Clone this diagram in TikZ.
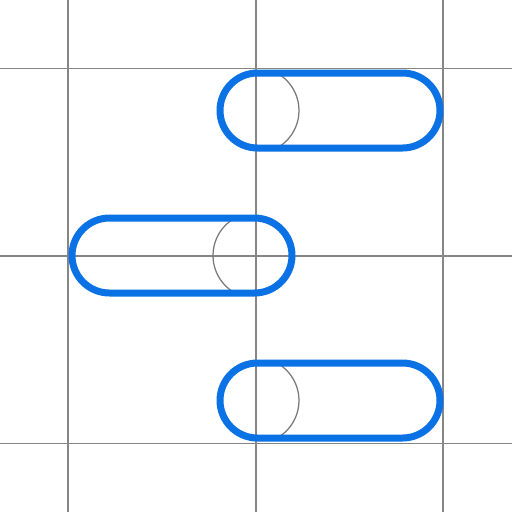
\documentclass[tikz,border=0pt]{standalone}
\begin{document}
\begin{tikzpicture}[x=0.02cm,y=-0.02cm,
  gridline/.style={draw=gray!95, line width=0.032cm},
  pill/.style={draw=pillblue, line width=0.14cm},
  knob/.style={draw=gray!95!black, line width=0.025cm}]
\definecolor{pillblue}{HTML}{0A72E4}
\useasboundingbox (0,0) rectangle (512,512);
\fill[white] (0,0) rectangle (512,512);
% grid
\foreach \g in {68.3,255.8,443.3}{
  \draw[gridline] (\g,0) -- (\g,512);
  \draw[gridline] (0,\g) -- (512,\g);
}
% pills: left x, right x, center y, knob centre x
\foreach \l/\r/\c/\k in {220/440/110.5/256, 72/292/255.5/256, 220/440/400.5/256}{
  \begin{scope}
    \clip[rounded corners=37.5*0.02cm] (\l,\c-37.5) rectangle (\r,\c+37.5);
    \draw[knob] (\k,\c) circle (43*0.02cm);
  \end{scope}
  \draw[pill, rounded corners=37.5*0.02cm] (\l,\c-37.5) rectangle (\r,\c+37.5);
}
\end{tikzpicture}
\end{document}
